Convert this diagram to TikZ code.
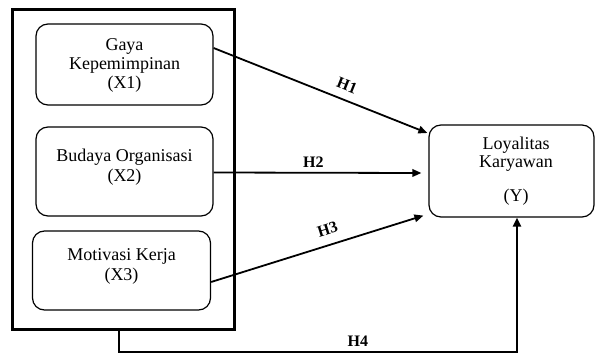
\documentclass[tikz,border=0pt]{standalone}
\usepackage{fontspec}
\setmainfont{Liberation Serif}
\usetikzlibrary{arrows.meta,calc}
\begin{document}
\begin{tikzpicture}[x=1pt,y=-1pt,
  vbox/.style={draw,line width=1.2pt,rounded corners=12pt,inner sep=0pt},
  txt/.style={font=\fontsize{18}{19.5}\selectfont,inner sep=0pt,anchor=base},
  hlab/.style={font=\fontsize{16}{16}\selectfont\bfseries,inner sep=0pt},
  arr/.style={line width=1.8pt,-{Triangle[length=9pt,width=7.5pt]}},
  arrfour/.style={line width=2.6pt,-{Triangle[length=9pt,width=8pt]}}]
\useasboundingbox (0,0) rectangle (595,356);
% outer frame
\node[draw,line width=3pt,minimum width=222pt,minimum height=320pt,inner sep=0pt] (outer) at (123,169) {};
% variable boxes
\node[vbox,minimum width=177pt,minimum height=81pt] (x1) at (124.5,64.5) {};
\node[vbox,minimum width=177pt,minimum height=89pt] (x2) at (124.5,171.5) {};
\node[vbox,minimum width=178pt,minimum height=79pt] (x3) at (121.5,270.5) {};
\node[vbox,minimum width=165pt,minimum height=92pt] (yb) at (511.5,171) {};
% texts
\node[txt] (t1a) at (124.5,50) {Gaya};
\node[txt] (t1b) at (124.5,69.5) {Kepemimpinan};
\node[txt] (t1c) at (124.5,88) {(X1)};
\node[txt] (t2a) at (124.5,161.5) {Budaya Organisasi};
\node[txt] (t2b) at (124.5,181) {(X2)};
\node[txt] (t3a) at (121.5,260) {Motivasi Kerja};
\node[txt] (t3b) at (121.5,280) {(X3)};
\node[txt] (tya) at (516,149) {Loyalitas};
\node[txt] (tyb) at (516,167.5) {Karyawan};
\node[txt] (tyc) at (516,201) {(Y)};
% arrows
\draw[arr] ($(x1.east)+(0,-16.5)$) -- node[hlab,sloped,above=8pt,pos=0.6]{H1} ($(yb.west)+(-1,-38)$);
\draw[arr] ($(x2.east)+(0,1)$) -- node[hlab,above=4pt,pos=0.48]{H2} ($(yb.west)+(-7,2)$);
\draw[arr] ($(x3.east)+(0,11.5)$) -- node[hlab,sloped,above=9pt,pos=0.57]{H3} ($(yb.south west)+(-5,-2)$);
% H4
\coordinate (h4s) at (119,329);
\coordinate (h4c) at (119,352);
\draw[arrfour] (h4s) -- (h4c) -| node[hlab,pos=0.3,above=4pt]{H4} ([xshift=5.5pt]yb.south);
\end{tikzpicture}
\end{document}
